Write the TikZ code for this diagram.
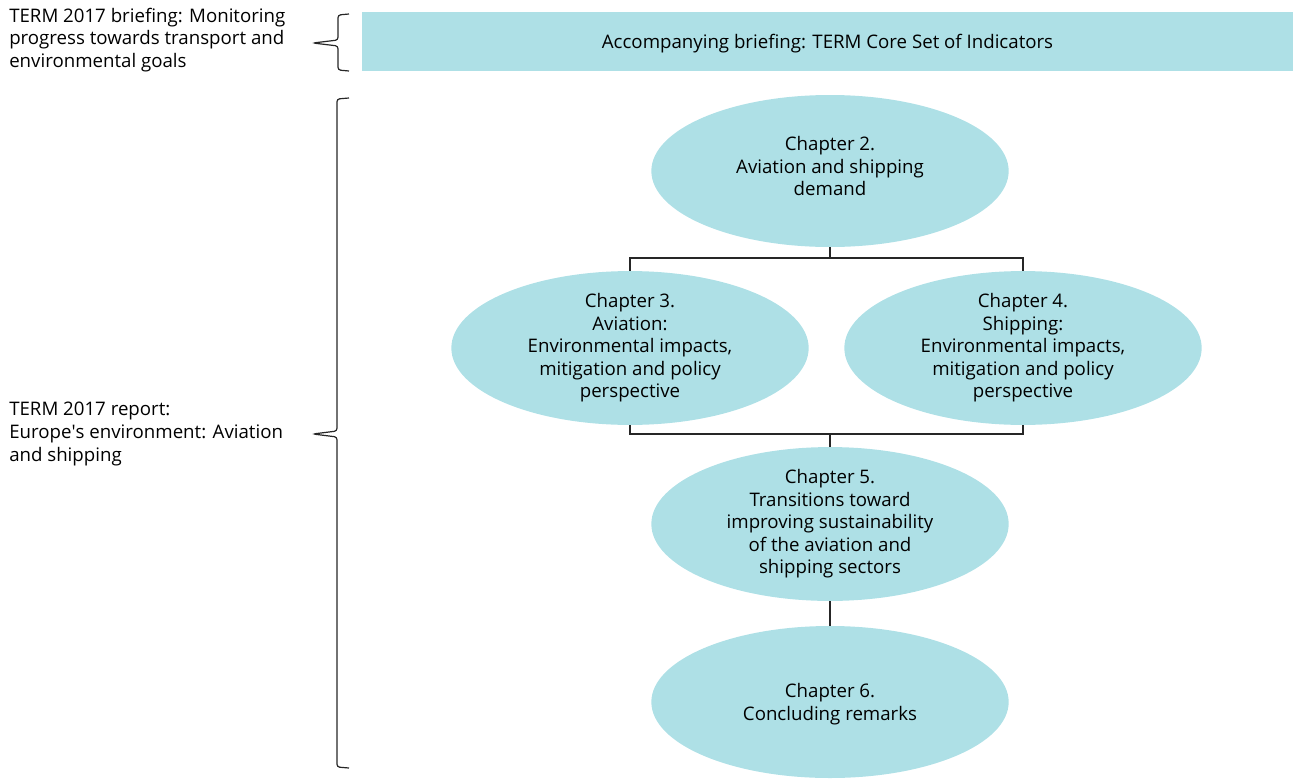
\documentclass[tikz,border=0pt]{standalone}
\usepackage{fontspec}
\setmainfont{Open Sans}
\usetikzlibrary{shapes.geometric}
\definecolor{termblue}{RGB}{174,224,230}
\tikzset{
  chapter/.style={ellipse, fill=termblue, inner sep=0pt, minimum width=268pt, minimum height=114pt, align=center, font=\fontsize{14}{16.9}\selectfont},
  side/.style={anchor=west, align=left, inner sep=0pt, font=\fontsize{14}{16.9}\selectfont},
  link/.style={line width=0.8pt, black!85},
  bracket/.style={line width=0.9pt, black!85, rounded corners=2pt}
}
\begin{document}
\begin{tikzpicture}[x=0.75pt, y=-0.75pt]
        \useasboundingbox (0,0) rectangle (1295,778);

        % briefing row
        \node[fill=termblue, minimum width=698pt, minimum height=44pt, inner sep=0pt, text height=14.5pt, font=\fontsize{14}{16.9}\selectfont] (core) at (827.5,41.5) {Accompanying briefing: TERM Core Set of Indicators};
        \node[side] (briefing) at (9,40) {TERM 2017 briefing: Monitoring\\progress towards transport and\\environmental goals};

        % report chapters
        \node[chapter, text depth=7pt] (ch2) at (830,171) {Chapter 2.\\Aviation and shipping\\demand};
        \node[chapter] (ch3) at (630,348) {Chapter 3.\\Aviation:\\Environmental impacts,\\mitigation and policy\\perspective};
        \node[chapter] (ch4) at (1023,348) {Chapter 4.\\Shipping:\\Environmental impacts,\\mitigation and policy\\perspective};
        \node[chapter] (ch5) at (830,524) {Chapter 5.\\Transitions toward\\improving sustainability\\of the aviation and\\shipping sectors};
        \node[chapter, text depth=0pt] (ch6) at (830,702) {Chapter 6.\\Concluding remarks};
        \node[side] (report) at (9,434) {TERM 2017 report:\\Europe\textquotesingle s environment: Aviation\\and shipping};

        \coordinate (split) at (830,258);
        \coordinate (merge) at (830,434);
        \draw[link] (ch2.south) -- (split);
        \draw[link] (ch3.north) |- (split) -| (ch4.north);
        \draw[link] (ch3.south) |- (merge) -| (ch4.south);
        \draw[link] (merge) -- (ch5.north);
        \draw[link] (ch5.south) -- (ch6.north);

        % braces
        \draw[bracket] (349,14) -- (338,15) -- (338,40) -- (313,43) -- (338,46) -- (338,70) -- (349,71);
        \draw[bracket] (349,98) -- (337,99) -- (337,431) -- (313,434) -- (337,437) -- (337,767) -- (349,768);
    \end{tikzpicture}
\end{document}
